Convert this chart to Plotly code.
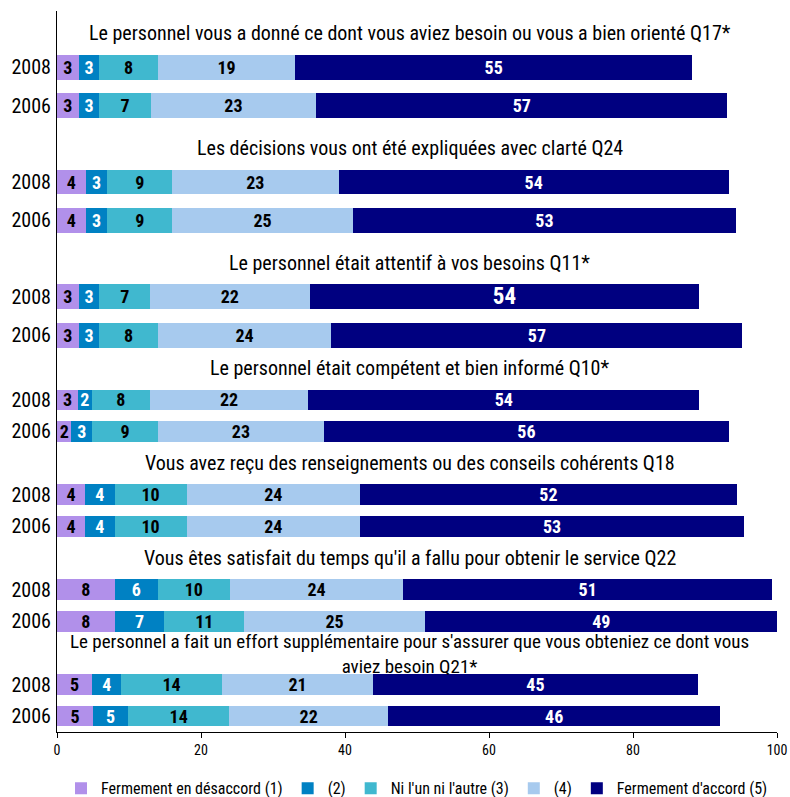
import plotly.graph_objects as go
from plotly.subplots import make_subplots

questions = [
    "Le personnel vous a donné ce dont vous aviez besoin ou vous a bien orienté Q17*",
    "Les décisions vous ont été expliquées avec clarté Q24",
    "Le personnel était attentif à vos besoins Q11*",
    "Le personnel était compétent et bien informé Q10*",
    "Vous avez reçu des renseignements ou des conseils cohérents Q18",
    "Vous êtes satisfait du temps qu'il a fallu pour obtenir le service Q22",
    "Le personnel a fait un effort supplémentaire pour s'assurer que vous obteniez ce dont vous<br>aviez besoin Q21*",
]
years = ["2008", "2006"]
series_names = ["Fermement en désaccord (1)", "(2)", "Ni l'un ni l'autre (3)", "(4)", "Fermement d'accord (5)"]

# values per question: [2008 row, 2006 row], each row = 5 categories
values = [
    [[3.0, 2.9, 8.1, 19.1, 55.1], [3.0, 2.9, 7.1, 23.0, 57.1]],
    [[4.0, 3.0, 9.0, 23.1, 54.2], [4.0, 3.0, 9.0, 25.1, 53.2]],
    [[3.0, 2.9, 7.0, 22.2, 54.1], [3.0, 2.9, 8.1, 24.1, 57.1]],
    [[2.9, 1.9, 8.1, 22.0, 54.3], [2.0, 2.9, 9.1, 23.1, 56.2]],
    [[3.9, 4.1, 10.0, 24.1, 52.3], [3.9, 4.1, 10.0, 24.1, 53.3]],
    [[8.0, 6.0, 10.0, 24.1, 51.2], [8.0, 6.9, 11.1, 25.1, 49.0]],
    [[4.9, 4.0, 14.0, 21.0, 45.1], [5.0, 4.9, 14.0, 22.1, 46.1]],
]
colors = ["#B190EA", "#0081C3", "#40B8CF", "#A7CAEE", "#000080"]
text_colors = ["black", "white", "black", "black", "white"]

FONT = "Liberation Sans Narrow, Arial Narrow, Roboto Condensed, Arial, sans-serif"

top_groups = [0, 1, 2]
bottom_groups = [3, 4, 5, 6]

fig = make_subplots(rows=2, cols=1, vertical_spacing=0.0, row_heights=[0.476, 0.524])

def add_block(groups, row, showlegend):
    cats = []
    for g in groups:
        cats.append(f"{g}|t")
        for y in years:
            cats.append(f"{g}|{y}")
    for s, name in enumerate(series_names):
        ys, xs, sizes = [], [], []
        for g in groups:
            for yi, y in enumerate(years):
                ys.append(f"{g}|{y}")
                xs.append(values[g][yi][s])
                sizes.append(23 if (g == 2 and yi == 0 and s == 4) else 18)
        fig.add_trace(go.Bar(
            y=ys, x=xs, orientation="h", name=name,
            marker=dict(color=colors[s], line=dict(width=0)),
            texttemplate="%{x:.0f}", textposition="inside", insidetextanchor="middle",
            constraintext="none", textangle=0,
            textfont=dict(family=FONT, size=sizes, color=text_colors[s], weight="bold"),
            showlegend=showlegend, legendgroup=name, hoverinfo="skip",
        ), row=row, col=1)
    tickvals = [c for c in cats if not c.endswith("|t")]
    ticktext = [c.split("|")[1] for c in tickvals]
    fig.update_yaxes(type="category", categoryorder="array", categoryarray=cats,
                     autorange="reversed", tickvals=tickvals, ticktext=ticktext,
                     showline=True, linecolor="black", linewidth=1, ticks="", ticklen=0,
                     showgrid=False, tickfont=dict(family=FONT, size=20, color="black"),
                     ticklabelstandoff=1, row=row, col=1)
    axis_suffix = "" if row == 1 else "2"
    for g in groups:
        multi = "<br>" in questions[g]
        fig.add_annotation(x=49, y=f"{g}|t", xref=f"x{axis_suffix}", yref=f"y{axis_suffix}",
                           text=questions[g], showarrow=False,
                           font=dict(family=FONT, size=19 if multi else 20, color="black"),
                           xanchor="center", yanchor="middle",
                           yshift=(-1 if multi else (-4 if row == 1 else 0)))

add_block(top_groups, 1, True)
add_block(bottom_groups, 2, False)

fig.update_xaxes(range=[0, 100], showgrid=False, zeroline=False, fixedrange=True)
fig.update_xaxes(showticklabels=False, showline=False, ticks="", row=1, col=1)
fig.update_xaxes(showline=True, linecolor="black", linewidth=1, ticks="outside",
                 ticklen=5, tickcolor="black", tickvals=[0, 20, 40, 60, 80, 100],
                 tickfont=dict(family=FONT, size=14, color="black"), row=2, col=1)

fig.update_layout(
    width=790, height=797,
    margin=dict(l=57, r=13, t=11, b=65, autoexpand=False),
    barmode="stack", bargap=0.35,
    plot_bgcolor="white", paper_bgcolor="white",
    font=dict(family=FONT, color="black"),
    legend=dict(orientation="h", x=0.5, xanchor="center", y=-0.078, yanchor="middle",
                font=dict(family=FONT, size=16, color="black"),
                itemwidth=30, tracegroupgap=0, traceorder="normal"),
)

fig.write_html("out.html")
